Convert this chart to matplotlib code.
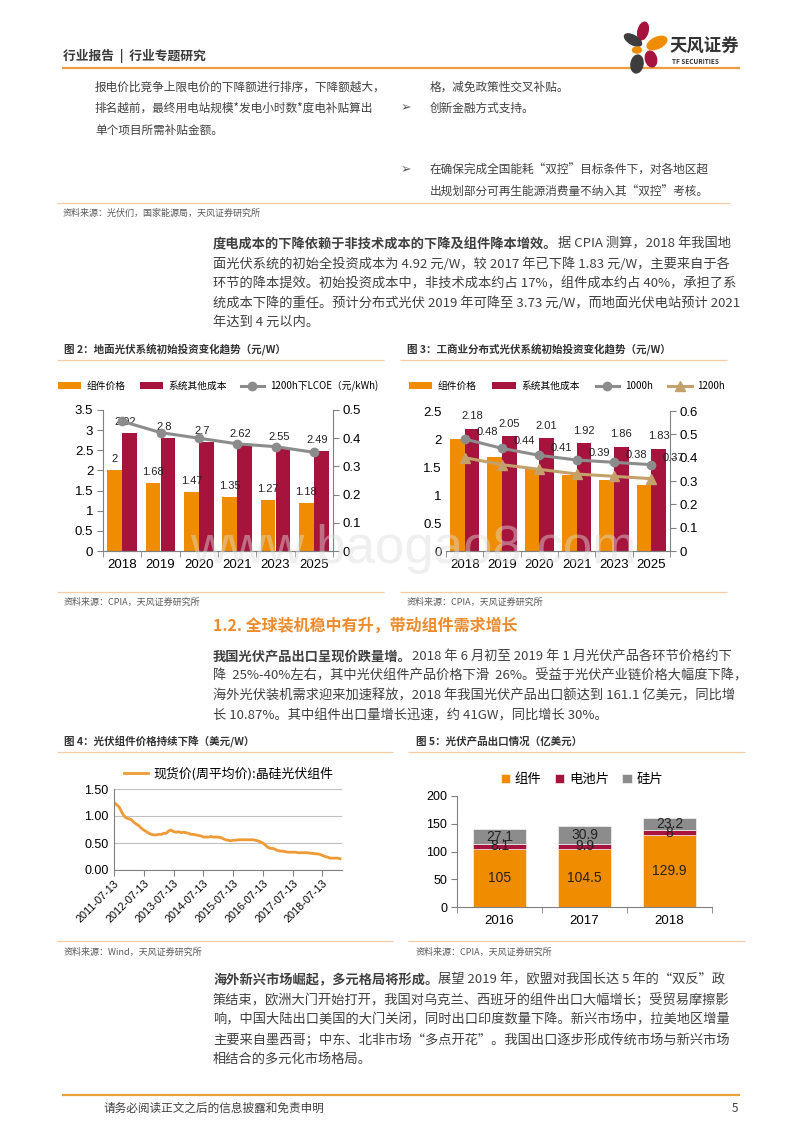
import matplotlib
matplotlib.use("Agg")
import matplotlib.pyplot as plt
from matplotlib.patches import Ellipse
import numpy as np
import pandas as pd

plt.rcParams['font.family'] = ['Noto Sans CJK SC', 'DejaVu Sans']

# ---- 数据 ----
years_cost = ['2018', '2019', '2020', '2021', '2023', '2025']
module_price = [2, 1.68, 1.47, 1.35, 1.27, 1.18]
other_cost_ground = [2.92, 2.8, 2.7, 2.62, 2.55, 2.49]
lcoe_ground_1200h = [0.46, 0.42, 0.40, 0.38, 0.37, 0.35]
module_price_dist = [2, 1.68, 1.47, 1.35, 1.27, 1.18]
other_cost_dist = [2.18, 2.05, 2.01, 1.92, 1.86, 1.83]
lcoe_dist_1000h = [0.48, 0.44, 0.41, 0.39, 0.38, 0.37]
lcoe_dist_1200h = [0.40, 0.37, 0.35, 0.33, 0.32, 0.31]

# 现货价 月度读数, 2011-07 起
spot_start = '2011-07-13'
spot_price = [
    1.25, 1.21, 1.17, 1.08, 1.00, 0.96,
    0.95, 0.93, 0.88, 0.85, 0.82, 0.77, 0.74, 0.71, 0.68, 0.66, 0.65, 0.65,
    0.66, 0.66, 0.68, 0.68, 0.72, 0.74, 0.71, 0.70, 0.71, 0.69, 0.70, 0.69,
    0.68, 0.66, 0.66, 0.65, 0.64, 0.63, 0.61, 0.61, 0.61, 0.62, 0.61, 0.61,
    0.61, 0.60, 0.58, 0.56, 0.55, 0.54, 0.55, 0.55, 0.56, 0.56, 0.56, 0.56,
    0.56, 0.56, 0.56, 0.55, 0.54, 0.52, 0.50, 0.46, 0.42, 0.40, 0.40, 0.38,
    0.36, 0.35, 0.35, 0.34, 0.33, 0.33, 0.33, 0.33, 0.32, 0.32, 0.32, 0.32,
    0.32, 0.31, 0.31, 0.30, 0.30, 0.29, 0.27, 0.25, 0.24, 0.22, 0.22, 0.22,
    0.22, 0.21,
]
spot_ticks = ['2011-07-13', '2012-07-13', '2013-07-13', '2014-07-13',
              '2015-07-13', '2016-07-13', '2017-07-13', '2018-07-13']

export_years = ['2016', '2017', '2018']
export_module = [105, 104.5, 129.9]
export_cell = [8.1, 9.9, 8]
export_wafer = [27.1, 30.9, 23.2]

# ---- 颜色 ----
ORANGE = '#F08C00'
RED = '#A6133C'
GRAY = '#8C8C8C'
TAN = '#C4A06A'
LINE_OR = '#EE9A3E'
LIGHT_OR = '#F5CBA3'
TXT = '#404040'
NUM = ['Liberation Sans', 'Noto Sans CJK SC']

W, H = 800, 1132
fig = plt.figure(figsize=(8, 11.32), dpi=100)
page = fig.add_axes([0, 0, 1, 1])
page.set_xlim(0, W)
page.set_ylim(H, 0)
page.axis('off')
renderer = fig.canvas.get_renderer()


def box(x0, y0, x1, y1):
    return [x0 / W, 1 - y1 / H, (x1 - x0) / W, (y1 - y0) / H]


def rich(x, y, parts, size=9.5, color=TXT):
    for s, bold in parts:
        t = page.text(x, y, s, fontsize=size, color=color, va='center',
                      weight='bold' if bold else 'normal')
        x += t.get_window_extent(renderer=renderer).width


def hline(y, x0, x1, color=LIGHT_OR, lw=0.9):
    page.plot([x0, x1], [y, y], color=color, lw=lw, solid_capstyle='butt')


def arrow(x, y):
    page.text(x, y, '➢', fontsize=9, color='#555555', va='center', family=['DejaVu Sans'])


# ---- 页眉 ----
page.text(63, 56, '行业报告  |  行业专题研究', fontsize=9.2, weight='bold', color='#3a3a3a', va='center')
hline(68, 62, 740, color=LINE_OR, lw=1.6)
for (cx, cy, w, h, ang, c) in [(643, 31, 10, 18, 15, RED), (633, 40, 19, 9, 30, '#3d3d3d'),
                               (657, 43, 21, 11, -25, ORANGE), (637, 50, 9, 6, 0, ORANGE),
                               (651, 59, 11, 16, -15, RED), (637, 64, 12, 18, 10, '#3d3d3d')]:
    page.add_patch(Ellipse((cx, cy), w, h, angle=ang, color=c, zorder=3))
page.text(670, 47, '天风证券', fontsize=12.5, weight='bold', color='#333333', va='center')
page.text(672, 62, 'TF SECURITIES', fontsize=4.6, weight='bold', color='#333333', va='center')

# ---- 上方表格残余 ----
rich(95, 87, [('报电价比竞争上限电价的下降额进行排序，下降额越大，', False)], 8.4)
rich(95, 108, [('排名越前，最终用电站规模*发电小时数*度电补贴算出', False)], 8.4)
rich(95, 130, [('单个项目所需补贴金额。', False)], 8.4)
rich(430, 87, [('格，减免政策性交叉补贴。', False)], 8.4)
arrow(401, 108)
rich(430, 108, [('创新金融方式支持。', False)], 8.4)
arrow(401, 170)
rich(430, 170, [('在确保完成全国能耗“双控”目标条件下，对各地区超', False)], 8.4)
rich(430, 192, [('出规划部分可再生能源消费量不纳入其“双控”考核。', False)], 8.4)
hline(203, 57, 730)
page.text(63, 213, '资料来源：光伏们，国家能源局，天风证券研究所', fontsize=6.5, color='#595959', va='center')

# ---- 段落1 ----
rich(213, 244, [('度电成本的下降依赖于非技术成本的下降及组件降本增效。', True),
                ('据 CPIA 测算，2018 年我国地', False)])
rich(213, 264, [('面光伏系统的初始全投资成本为 4.92 元/W，较 2017 年已下降 1.83 元/W，主要来自于各', False)])
rich(213, 284, [('环节的降本提效。初始投资成本中，非技术成本约占 17%，组件成本约占 40%，承担了系', False)])
rich(213, 303, [('统成本下降的重任。预计分布式光伏 2019 年可降至 3.73 元/W，而地面光伏电站预计 2021', False)])
rich(213, 322, [('年达到 4 元以内。', False)])

# ---- 图2/图3 标题 ----
page.text(64, 349, '图 2：地面光伏系统初始投资变化趋势（元/W）', fontsize=7.6, weight='bold', color='#333333', va='center')
page.text(407, 349, '图 3：工商业分布式光伏系统初始投资变化趋势（元/W）', fontsize=7.6, weight='bold', color='#333333', va='center')
hline(360, 57, 384)
hline(360, 400, 727)
hline(592, 57, 384)
hline(592, 400, 727)
page.text(64, 602, '资料来源：CPIA，天风证券研究所', fontsize=6.5, color='#595959', va='center')
page.text(407, 602, '资料来源：CPIA，天风证券研究所', fontsize=6.5, color='#595959', va='center')

x = np.arange(len(years_cost))
bw = 0.39


def style_cost_axes(ax, axr, show_left):
    ax.set_xlim(-0.5, len(years_cost) - 0.5)
    ax.set_xticks(x)
    ax.set_xticklabels(years_cost, fontsize=9.5, family=NUM)
    ax.set_xticks(np.arange(-0.5, len(years_cost)), minor=True)
    ax.tick_params(axis='x', which='major', length=0, pad=6)
    ax.tick_params(axis='x', which='minor', length=4, color='#808080')
    ax.tick_params(axis='y', length=4, color='#808080', labelsize=9.5, pad=3)
    axr.tick_params(axis='y', length=4, color='#808080', labelsize=9.5, pad=3)
    for a in (ax, axr):
        for lab in a.get_yticklabels():
            lab.set_family(NUM)
        a.spines['top'].set_visible(False)
        a.spines['bottom'].set_color('#808080')
        a.spines['right'].set_color('#808080')
        a.spines['left'].set_color('#808080')
    axr.spines['left'].set_visible(False)
    ax.spines['right'].set_visible(False)
    ax.spines['left'].set_visible(show_left)
    ax.set_zorder(axr.get_zorder() - 1)
    ax.patch.set_visible(False)
    axr.patch.set_visible(False)


# ---- 图2 ----
ax2 = fig.add_axes(box(103, 410, 333, 551))
ax2r = ax2.twinx()
b1 = ax2.bar(x - bw / 2, module_price, bw, color=ORANGE, label='组件价格')
b2 = ax2.bar(x + bw / 2, other_cost_ground, bw, color=RED, label='系统其他成本')
l1, = ax2r.plot(x, lcoe_ground_1200h, color=GRAY, lw=2.2, marker='o', ms=6,
                label='1200h下LCOE（元/kWh)')
ax2.set_ylim(0, 3.5)
ax2.set_yticks(np.arange(0, 3.51, 0.5))
ax2.set_yticklabels(['0', '0.5', '1', '1.5', '2', '2.5', '3', '3.5'])
ax2r.set_ylim(0, 0.5)
ax2r.set_yticks(np.arange(0, 0.51, 0.1))
ax2r.set_yticklabels(['0', '0.1', '0.2', '0.3', '0.4', '0.5'])
style_cost_axes(ax2, ax2r, True)
for xi, v in zip(x, module_price):
    ax2.annotate(f'{v:g}', (xi - bw / 2, v), xytext=(0, 8), textcoords='offset points',
                 ha='center', va='center', fontsize=8, family=NUM, color='#222222')
for xi, v in zip(x, other_cost_ground):
    ax2.annotate(f'{v:g}', (xi + bw / 2, v), xytext=(-3, 8), textcoords='offset points',
                 ha='center', va='center', fontsize=8, family=NUM, color='#222222', zorder=5)
fig.legend([b1, b2, l1], [b1.get_label(), b2.get_label(), l1.get_label()],
           loc='center', bbox_to_anchor=(218 / W, 1 - 386 / H), ncol=3, frameon=False,
           fontsize=7, handlelength=2.4, handleheight=0.7, columnspacing=1.4, handletextpad=0.6)

# ---- 图3 ----
ax3 = fig.add_axes(box(446, 411, 670, 551))
ax3r = ax3.twinx()
c1 = ax3.bar(x - bw / 2, module_price_dist, bw, color=ORANGE, label='组件价格')
c2 = ax3.bar(x + bw / 2, other_cost_dist, bw, color=RED, label='系统其他成本')
m1, = ax3r.plot(x, lcoe_dist_1000h, color=GRAY, lw=2.2, marker='o', ms=6, label='1000h')
m2, = ax3r.plot(x, lcoe_dist_1200h, color=TAN, lw=2.2, marker='^', ms=6.5, label='1200h')
ax3.set_ylim(0, 2.5)
ax3.set_yticks(np.arange(0, 2.51, 0.5))
ax3.set_yticklabels(['0', '0.5', '1', '1.5', '2', '2.5'])
ax3r.set_ylim(0, 0.6)
ax3r.set_yticks(np.arange(0, 0.61, 0.1))
ax3r.set_yticklabels(['0', '0.1', '0.2', '0.3', '0.4', '0.5', '0.6'])
style_cost_axes(ax3, ax3r, False)
ax3.tick_params(axis='y', length=0)
for xi, v in zip(x, other_cost_dist):
    ax3.annotate(f'{v:g}', (xi + bw / 2, v), xytext=(0, 9), textcoords='offset points',
                 ha='center', va='center', fontsize=8, family=NUM, color='#222222')
for xi, v in zip(x, lcoe_dist_1000h):
    ax3r.annotate(f'{v:.2f}', (xi, v), xytext=(16, 5), textcoords='offset points',
                  ha='center', va='center', fontsize=8, family=NUM, color='#222222')
fig.legend([c1, c2, m1, m2], [c1.get_label(), c2.get_label(), m1.get_label(), m2.get_label()],
           loc='center', bbox_to_anchor=(567 / W, 1 - 386 / H), ncol=4, frameon=False,
           fontsize=7, handlelength=2.4, handleheight=0.7, columnspacing=1.6, handletextpad=0.6)

# ---- 1.2 小节 ----
page.text(213, 626, '1.2. 全球装机稳中有升，带动组件需求增长', fontsize=11.5, weight='bold',
          color='#EE8A2C', va='center')
rich(213, 656, [('我国光伏产品出口呈现价跌量增。', True),
                ('2018 年 6 月初至 2019 年 1 月光伏产品各环节价格约下', False)])
rich(213, 676, [('降  25%-40%左右，其中光伏组件产品价格下滑  26%。受益于光伏产业链价格大幅度下降，', False)])
rich(213, 696, [('海外光伏装机需求迎来加速释放，2018 年我国光伏产品出口额达到 161.1 亿美元，同比增', False)])
rich(213, 716, [('长 10.87%。其中组件出口量增长迅速，约 41GW，同比增长 30%。', False)])

# ---- 图4/图5 标题 ----
page.text(64, 742, '图 4：光伏组件价格持续下降（美元/W）', fontsize=7.6, weight='bold', color='#333333', va='center')
page.text(416, 742, '图 5：光伏产品出口情况（亿美元）', fontsize=7.6, weight='bold', color='#333333', va='center')
hline(752, 57, 393)
hline(752, 408, 745)
hline(941, 57, 393)
hline(941, 408, 745)
page.text(64, 952, '资料来源：Wind，天风证券研究所', fontsize=6.5, color='#595959', va='center')
page.text(416, 952, '资料来源：CPIA，天风证券研究所', fontsize=6.5, color='#595959', va='center')

# ---- 图4 ----
ax4 = fig.add_axes(box(114, 789, 342, 870))
spot_dates = [pd.Timestamp(spot_start) + pd.DateOffset(months=i) for i in range(len(spot_price))]
s1, = ax4.plot(spot_dates, spot_price, color='#EE9A36', lw=2, label='现货价(周平均价):晶硅光伏组件')
ax4.set_ylim(0, 1.5)
ax4.set_yticks([0, 0.5, 1.0, 1.5])
ax4.set_yticklabels(['0.00', '0.50', '1.00', '1.50'], family=NUM, fontsize=9)
tick_dates = pd.to_datetime(spot_ticks)
ax4.set_xlim(pd.Timestamp(spot_start), pd.Timestamp('2019-03-10'))
ax4.set_xticks(tick_dates)
ax4.set_xticklabels(spot_ticks, rotation=45, ha='right', rotation_mode='anchor',
                    family=NUM, fontsize=7.8)
ax4.grid(axis='y', color='#BFBFBF', lw=0.8)
ax4.set_axisbelow(True)
ax4.tick_params(axis='y', length=0, pad=4)
ax4.tick_params(axis='x', length=4, color='#808080', pad=2)
for sp in ['top', 'right']:
    ax4.spines[sp].set_visible(False)
ax4.spines['left'].set_color('#808080')
ax4.spines['bottom'].set_color('#808080')
fig.legend([s1], [s1.get_label()], loc='center left', bbox_to_anchor=(112 / W, 1 - 774 / H),
           frameon=False, fontsize=9.3, handlelength=1.9, handletextpad=0.4)

# ---- 图5 ----
ax5 = fig.add_axes(box(457, 796, 712, 907))
xe = np.arange(len(export_years))
ew = 0.62
bottom2 = np.array(export_module) + np.array(export_cell)
e1 = ax5.bar(xe, export_module, ew, color=ORANGE, label='组件', edgecolor='white', lw=0.4)
e2 = ax5.bar(xe, export_cell, ew, bottom=export_module, color=RED, label='电池片', edgecolor='white', lw=0.4)
e3 = ax5.bar(xe, export_wafer, ew, bottom=bottom2, color=GRAY, label='硅片', edgecolor='white', lw=0.4)
for bars, vals, base in [(e1, export_module, np.zeros(3)), (e2, export_cell, np.array(export_module)),
                         (e3, export_wafer, bottom2)]:
    for xi, v, b in zip(xe, vals, base):
        ax5.text(xi, b + v / 2, f'{v:g}', ha='center', va='center', fontsize=10,
                 family=NUM, color='#222222')
ax5.set_xlim(-0.5, len(export_years) - 0.5)
ax5.set_ylim(0, 200)
ax5.set_yticks(np.arange(0, 201, 50))
ax5.set_yticklabels([str(v) for v in range(0, 201, 50)], family=NUM, fontsize=9)
ax5.set_xticks(xe)
ax5.set_xticklabels(export_years, family=NUM, fontsize=9.5)
ax5.set_xticks(np.arange(-0.5, len(export_years)), minor=True)
ax5.tick_params(axis='x', which='major', length=0, pad=6)
ax5.tick_params(axis='x', which='minor', length=4, color='#808080')
ax5.tick_params(axis='y', length=4, color='#808080', pad=3)
for sp in ['top', 'right']:
    ax5.spines[sp].set_visible(False)
ax5.spines['left'].set_color('#808080')
ax5.spines['bottom'].set_color('#808080')
fig.legend([e1, e2, e3], ['组件', '电池片', '硅片'], loc='center',
           bbox_to_anchor=(582 / W, 1 - 779 / H), ncol=3, frameon=False, fontsize=9.6,
           handlelength=0.7, handleheight=0.7, handletextpad=0.35, columnspacing=1.0)

# ---- 段落3 ----
rich(213, 980, [('海外新兴市场崛起，多元格局将形成。', True),
                ('展望 2019 年，欧盟对我国长达 5 年的“双反”政', False)])
rich(213, 1000, [('策结束，欧洲大门开始打开，我国对乌克兰、西班牙的组件出口大幅增长；受贸易摩擦影', False)])
rich(213, 1020, [('响，中国大陆出口美国的大门关闭，同时出口印度数量下降。新兴市场中，拉美地区增量', False)])
rich(213, 1040, [('主要来自墨西哥；中东、北非市场“多点开花”。我国出口逐步形成传统市场与新兴市场', False)])
rich(213, 1059, [('相结合的多元化市场格局。', False)])

# ---- 页脚 ----
hline(1095, 62, 740, color='#E8A23A', lw=1.6)
page.text(103, 1108, '请务必阅读正文之后的信息披露和免责申明', fontsize=8.4, color=TXT, va='center')
page.text(738, 1108, '5', fontsize=8.4, color=TXT, va='center', ha='right')

# 水印
fig.text(190 / W, 1 - 563 / H, 'www.baogao8.com', fontsize=38, color='#dcdcdc', alpha=0.45,
         family=NUM, va='baseline', zorder=20)

fig.savefig('out.png', dpi=100)
